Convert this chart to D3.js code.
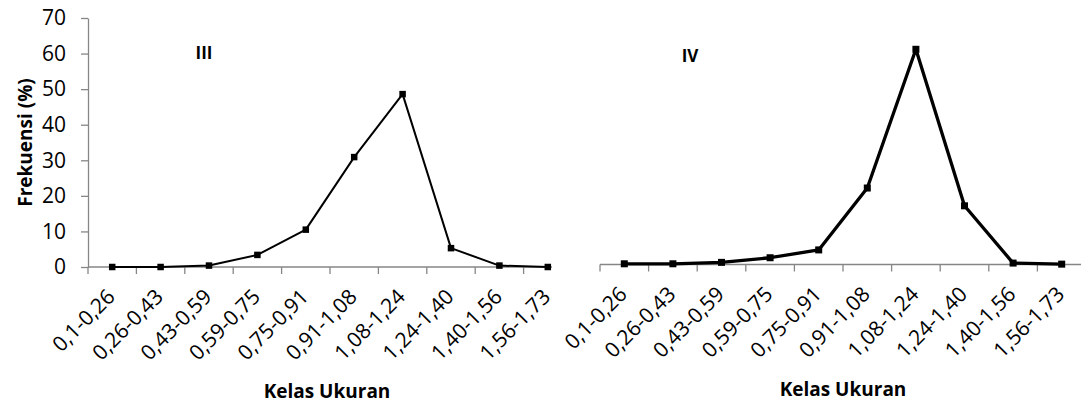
<!DOCTYPE html>
<html>
<head>
<meta charset="utf-8">
<script src="https://cdn.jsdelivr.net/npm/d3@7"></script>
<style>
    body { margin: 0; background: #fff; }
    text { font-family: "Open Sans", "Liberation Sans", sans-serif; fill: #000; }
    .axis path, .axis line { stroke: #868686; stroke-width: 1.3px; }
</style>
</head>
<body>
<div id="chart"></div>
<script>
"use strict";

// size classes (Kelas Ukuran)
var categories = ["0,1-0,26", "0,26-0,43", "0,43-0,59", "0,59-0,75", "0,75-0,91",
                  "0,91-1,08", "1,08-1,24", "1,24-1,40", "1,40-1,56", "1,56-1,73"];
// frequency (%) panel III
var valuesIII = [0, 0, 0.4, 3.4, 10.5, 30.9, 48.6, 5.3, 0.4, 0];
// frequency (%) panel IV
var valuesIV = [0.2, 0.2, 0.6, 1.9, 4.1, 21.5, 60.5, 16.5, 0.4, 0.1];
var yTicks = [0, 10, 20, 30, 40, 50, 60, 70];

var W = 1081, H = 405;

var svg = d3.select("#chart")
    .append("svg")
    .attr("width", W)
    .attr("height", H);

function panel(opt) {
    var x = d3.scaleBand()
        .domain(categories)
        .range([opt.x0, opt.x1])
        .padding(0);

    var y = d3.scaleLinear()
        .domain([0, 70])
        .range([opt.y0, opt.y0 - 249]);

    var g = svg.append("g");

    //x axis: line plus ticks at the class boundaries
    var ax = g.append("g").attr("class", "axis");
    ax.append("path")
        .attr("d", "M" + opt.x0 + "," + opt.y0 + "H" + opt.axisEnd)
        .attr("fill", "none");
    ax.selectAll("line")
        .data(categories)
        .enter()
        .append("line")
        .attr("x1", function(d) { return x(d); })
        .attr("x2", function(d) { return x(d); })
        .attr("y1", opt.y0)
        .attr("y2", opt.y0 + 7);

    //rotated tick labels
    g.selectAll("text.xlab")
        .data(categories)
        .enter()
        .append("text")
        .attr("class", "xlab")
        .attr("text-anchor", "end")
        .style("font-size", "21px")
        .attr("transform", function(d) {
            return "translate(" + (x(d) + x.bandwidth() / 2 + 4) + "," + (opt.y0 + 31) + ") rotate(-45)";
        })
        .text(function(d) { return d; });

    //y axis only on the left panel
    if (opt.yAxis) {
        var yAxis = g.append("g")
            .attr("class", "axis")
            .attr("transform", "translate(" + opt.x0 + ",0)")
            .call(d3.axisLeft(y).tickValues(yTicks).tickSize(7).tickSizeOuter(0).tickPadding(15));
        yAxis.selectAll("text")
            .style("font-size", "21px")
            .style("font-family", "'Open Sans', sans-serif")
            .attr("fill", "#000");

        g.append("text")
            .attr("transform", "translate(32," + ((opt.y0 + y(70)) / 2) + ") rotate(-90)")
            .attr("text-anchor", "middle")
            .style("font-size", "19px")
            .style("font-weight", "bold")
            .text("Frekuensi (%)");
    }

    //line
    var line = d3.line()
        .x(function(d, i) { return x(categories[i]) + x.bandwidth() / 2; })
        .y(function(d) { return y(d); });

    g.append("path")
        .datum(opt.values)
        .attr("fill", "none")
        .attr("stroke", "#000")
        .attr("stroke-width", opt.lw)
        .attr("stroke-linejoin", "round")
        .attr("d", line);

    //square markers
    g.selectAll("rect.mk")
        .data(opt.values)
        .enter()
        .append("rect")
        .attr("class", "mk")
        .attr("x", function(d, i) { return x(categories[i]) + x.bandwidth() / 2 - opt.ms / 2; })
        .attr("y", function(d) { return y(d) - opt.ms / 2; })
        .attr("width", opt.ms)
        .attr("height", opt.ms)
        .attr("fill", "#000");

    //panel label
    g.append("text")
        .attr("x", opt.labelX)
        .attr("y", opt.labelY)
        .attr("text-anchor", "middle")
        .style("font-size", "17px")
        .style("font-weight", "bold")
        .text(opt.label);

    //x axis title
    g.append("text")
        .attr("x", opt.titleX)
        .attr("y", opt.y0 + 131)
        .attr("text-anchor", "middle")
        .style("font-size", "19px")
        .style("font-weight", "bold")
        .text("Kelas Ukuran");
}

panel({ values: valuesIII, x0: 88, x1: 572, axisEnd: 552, y0: 267, yAxis: true,
        lw: 2, ms: 6.5, label: "III", labelX: 204, labelY: 59, titleX: 327 });
panel({ values: valuesIV, x0: 600, x1: 1086, axisEnd: 1081, y0: 264.5, yAxis: false,
        lw: 3.3, ms: 7, label: "IV", labelX: 690, labelY: 62, titleX: 843 });
</script>
</body>
</html>
